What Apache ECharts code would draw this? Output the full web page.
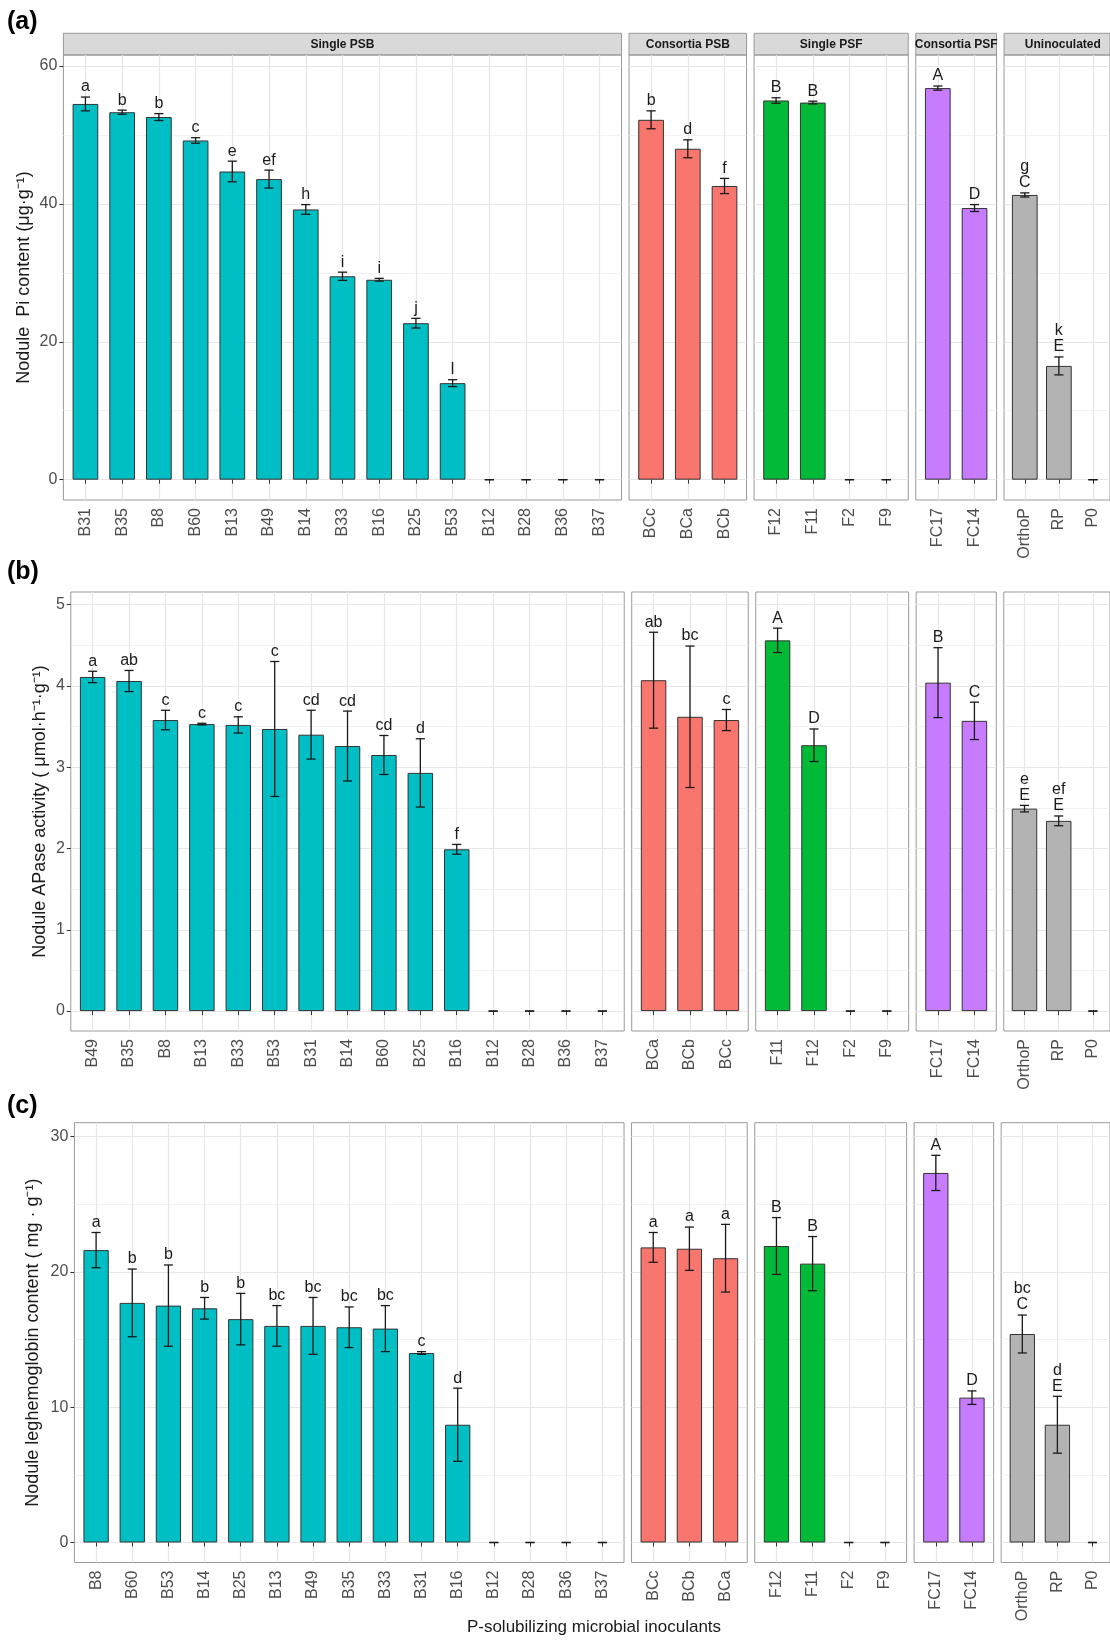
<!DOCTYPE html>
<html>
<head>
<meta charset="utf-8">
<script src="https://cdn.jsdelivr.net/npm/echarts@6/dist/echarts.min.js"></script>
<style>
html, body { margin: 0; padding: 0; background: #fff; }
#main { width: 1110px; height: 1640px; }
</style>
</head>
<body>
<div id="main"></div>
<script>
// 分组
var groupNames = ['Single PSB', 'Consortia PSB', 'Single PSF', 'Consortia PSF', 'Uninoculated'];
var groupSizes = [15, 3, 4, 2, 3];

// (a) Nodule Pi content
var catsA = ['B31','B35','B8','B60','B13','B49','B14','B33','B16','B25','B53','B12','B28','B36','B37',
             'BCc','BCa','BCb', 'F12','F11','F2','F9', 'FC17','FC14', 'OrthoP','RP','P0'];
var valsA = [54.5,53.3,52.6,49.2,44.7,43.6,39.2,29.5,29.0,22.7,14.0,0,0,0,0,
             52.2,48.0,42.6, 55.0,54.7,0,0, 56.8,39.4, 41.3,16.5,0];
var errsA = [1.0,0.3,0.5,0.4,1.5,1.3,0.7,0.6,0.2,0.7,0.5,0,0,0,0,
             1.3,1.3,1.1, 0.4,0.2,0,0, 0.3,0.5, 0.3,1.3,0];
var lettersA = ['a','b','b','c','e','ef','h','i','i','j','l','','','','',
                'b','d','f', 'B','B','','', 'A','D', 'g\nC','k\nE',''];

// (b) Nodule APase activity
var catsB = ['B49','B35','B8','B13','B33','B53','B31','B14','B60','B25','B16','B12','B28','B36','B37',
             'BCa','BCb','BCc', 'F11','F12','F2','F9', 'FC17','FC14', 'OrthoP','RP','P0'];
var valsB = [4.11,4.06,3.58,3.53,3.52,3.47,3.40,3.26,3.15,2.93,1.99,0,0,0,0,
             4.07,3.62,3.58, 4.56,3.27,0,0, 4.04,3.57, 2.49,2.34,0];
var errsB = [0.07,0.13,0.12,0.01,0.10,0.83,0.30,0.43,0.24,0.42,0.06,0,0,0,0,
             0.59,0.87,0.13, 0.15,0.20,0,0, 0.43,0.23, 0.04,0.06,0];
var lettersB = ['a','ab','c','c','c','c','cd','cd','cd','d','f','','','','',
                'ab','bc','c', 'A','D','','', 'B','C', 'e\nE','ef\nE',''];

// (c) Nodule leghemoglobin content
var catsC = ['B8','B60','B53','B14','B25','B13','B49','B35','B33','B31','B16','B12','B28','B36','B37',
             'BCc','BCb','BCa', 'F12','F11','F2','F9', 'FC17','FC14', 'OrthoP','RP','P0'];
var valsC = [21.6,17.7,17.5,17.3,16.5,16.0,16.0,15.9,15.8,14.0,8.7,0,0,0,0,
             21.8,21.7,21.0, 21.9,20.6,0,0, 27.3,10.7, 15.4,8.7,0];
var errsC = [1.3,2.5,3.0,0.8,1.9,1.5,2.1,1.5,1.7,0.1,2.7,0,0,0,0,
             1.1,1.6,2.5, 2.1,2.0,0,0, 1.3,0.5, 1.4,2.1,0];
var lettersC = ['a','b','b','b','b','bc','bc','bc','bc','c','d','','','','',
                'a','a','a', 'B','B','','', 'A','D', 'bc\nC','d\nE',''];

var FONT = '"Liberation Sans", Arial, sans-serif';
var groupColors = ['#00BFC4', '#F8766D', '#00BA38', '#C77CFF', '#B3B3B3'];
var GAP = 7.5;

var rows = [
    { tag: '(a)', tagY: 22, cats: catsA, vals: valsA, errs: errsA, letters: lettersA,
      yName: 'Nodule  Pi content (μg·g⁻¹)', left: 63.4, unit: 36.72, top: 55, bottom: 500,
      yMin: -2.95, yMax: 61.6, yTop: 60, interval: 20, nameGap: 30, stripTop: 33.3 },
    { tag: '(b)', tagY: 572, cats: catsB, vals: valsB, errs: errsB, letters: lettersB,
      yName: 'Nodule APase activity ( μmol·h⁻¹·g⁻¹)', left: 70.8, unit: 36.41, top: 592, bottom: 1031,
      yMin: -0.245, yMax: 5.155, yTop: 5, interval: 1, nameGap: 22 },
    { tag: '(c)', tagY: 1106, cats: catsC, vals: valsC, errs: errsC, letters: lettersC,
      yName: 'Nodule leghemoglobin content ( mg · g⁻¹)', left: 74.4, unit: 36.16, top: 1122.7, bottom: 1562.5,
      yMin: -1.477, yMax: 31.01, yTop: 30, interval: 10, nameGap: 32 }
];

function errRender(letters, unit) {
    return function (params, api) {
        var i = api.value(0), v = api.value(1), e = api.value(2);
        var hi = api.coord([i, v + e]);
        var lo = api.coord([i, v - e]);
        var cw = unit * 0.125;
        var ls = { stroke: '#1a1a1a', lineWidth: 1.3 };
        var kids = [
            { type: 'line', shape: { x1: hi[0], y1: hi[1], x2: lo[0], y2: lo[1] }, style: ls },
            { type: 'line', shape: { x1: hi[0] - cw, y1: hi[1], x2: hi[0] + cw, y2: hi[1] }, style: ls },
            { type: 'line', shape: { x1: lo[0] - cw, y1: lo[1], x2: lo[0] + cw, y2: lo[1] }, style: ls }
        ];
        var t = letters[params.dataIndex];
        if (t) {
            kids.push({ type: 'text', x: hi[0], y: hi[1] - 2,
                style: { text: t, fill: '#1a1a1a', font: '16px ' + FONT, lineHeight: 16,
                         align: 'center', verticalAlign: 'bottom', textAlign: 'center', textVerticalAlign: 'bottom' } });
        }
        return { type: 'group', children: kids };
    };
}

var grids = [], xAxes = [], yAxes = [], series = [], graphics = [];

function addGrid(g, xa, ya) {
    var i = grids.length;
    grids.push(g);
    xa.gridIndex = i; ya.gridIndex = i;
    xAxes.push(xa); yAxes.push(ya);
    return i;
}

rows.forEach(function (row) {
    var h = row.bottom - row.top;
    var zeroY = row.top + h * row.yMax / (row.yMax - row.yMin);
    var topTickY = zeroY - (zeroY - row.top) * row.yTop / row.yMax;
    var x = row.left, start = 0;

    graphics.push({ type: 'text', x: 7, y: row.tagY,
        style: { text: row.tag, font: 'bold 25px ' + FONT, fill: '#000',
                 align: 'left', verticalAlign: 'middle', textAlign: 'left', textVerticalAlign: 'middle' } });

    groupSizes.forEach(function (n, g) {
        var w = (n + 0.2) * row.unit;
        var cats = row.cats.slice(start, start + n);
        var vals = row.vals.slice(start, start + n);
        var errs = row.errs.slice(start, start + n);
        var letters = row.letters.slice(start, start + n);
        start += n;

        // strip
        if (row.stripTop) {
            addGrid({ left: x, top: row.stripTop, width: w, height: row.top - row.stripTop, show: true,
                      backgroundColor: '#d9d9d9', borderColor: '#999', borderWidth: 1 },
                    { type: 'value', show: false, min: 0, max: 1 },
                    { type: 'value', show: false, min: 0, max: 1 });
            graphics.push({ type: 'text', x: x + w / 2, y: (row.stripTop + row.top) / 2 + 0.5,
                style: { text: groupNames[g], font: 'bold 12px ' + FONT, fill: '#1a1a1a',
                         align: 'center', verticalAlign: 'middle', textAlign: 'center', textVerticalAlign: 'middle' } });
        }

        // 面板边框 + y轴名称
        addGrid({ left: x, top: row.top, width: w, height: h, show: true,
                  backgroundColor: 'transparent', borderColor: '#999', borderWidth: 1 },
                { type: 'value', show: false, min: 0, max: 1 },
                { type: 'value', show: g === 0, min: 0, max: 1,
                  axisLine: { show: false }, axisTick: { show: false }, axisLabel: { show: false }, splitLine: { show: false },
                  name: g === 0 ? row.yName : '', nameLocation: 'middle', nameRotate: 90, nameGap: row.nameGap,
                  nameTextStyle: { fontSize: 18, color: '#1a1a1a', fontFamily: FONT } });

        // 水平网格 + y刻度
        addGrid({ left: x, top: topTickY, width: w, height: zeroY - topTickY, show: false },
                { type: 'value', show: false, min: 0, max: 1 },
                { type: 'value', min: 0, max: row.yTop, interval: row.interval,
                  axisLine: { show: false },
                  axisTick: { show: g === 0, length: 4, lineStyle: { color: '#333' } },
                  axisLabel: { show: g === 0, fontSize: 16, color: '#4d4d4d', margin: 6, fontFamily: FONT },
                  splitLine: { show: true, lineStyle: { color: '#e6e6e6', width: 1.2 } },
                  minorTick: { show: false, splitNumber: 2 },
                  minorSplitLine: { show: true, lineStyle: { color: '#efefef', width: 0.8 } } });

        // 柱子 + x轴
        var gi = addGrid({ left: x + 0.1 * row.unit, top: row.top, width: n * row.unit, height: h, show: false },
                { type: 'category', data: cats, boundaryGap: true,
                  axisLine: { show: false },
                  axisTick: { show: true, alignWithLabel: true, length: 4, lineStyle: { color: '#333' } },
                  axisLabel: { rotate: 90, interval: 0, fontSize: 16, color: '#4d4d4d', margin: 8, fontFamily: FONT },
                  splitLine: { show: true, alignWithLabel: true, interval: 0, lineStyle: { color: '#e6e6e6', width: 1.2 } } },
                { type: 'value', show: false, min: row.yMin, max: row.yMax });

        series.push({ type: 'bar', xAxisIndex: gi, yAxisIndex: gi, barWidth: 0.7 * row.unit, silent: true,
            data: vals.map(function (v) { return v > 0 ? v : '-'; }),
            itemStyle: { color: groupColors[g], borderColor: '#333', borderWidth: 1 } });
        series.push({ type: 'custom', xAxisIndex: gi, yAxisIndex: gi, z: 5, silent: true,
            data: vals.map(function (v, i) { return [i, v, errs[i]]; }),
            encode: { x: 0, y: 1 },
            renderItem: errRender(letters, row.unit) });

        x += w + GAP;
    });
});

graphics.push({ type: 'text', x: 594, y: 1627,
    style: { text: 'P-solubilizing microbial inoculants', font: '17px ' + FONT, fill: '#1a1a1a',
             align: 'center', verticalAlign: 'middle', textAlign: 'center', textVerticalAlign: 'middle' } });

var chart = echarts.init(document.getElementById('main'), null, { renderer: 'canvas' });
chart.setOption({
    animation: false,
    backgroundColor: '#fff',
    grid: grids,
    xAxis: xAxes,
    yAxis: yAxes,
    series: series,
    graphic: graphics
});
</script>
</body>
</html>
